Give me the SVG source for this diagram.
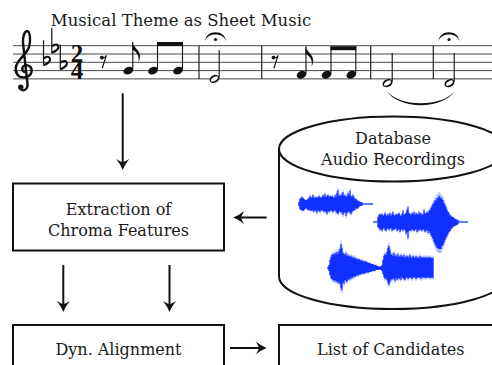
<svg xmlns="http://www.w3.org/2000/svg" width="492" height="365" viewBox="0 0 492 365">
<style>
text{font-family:"DejaVu Serif","Liberation Serif",serif;font-size:16px;fill:#1a1a1a;text-anchor:middle}
.box{fill:#fff;stroke:#111;stroke-width:2}
.staff{stroke:#333;stroke-width:0.9}
.bar{stroke:#222;stroke-width:1.2}
.stem{stroke:#111;stroke-width:1.1}
.ink{fill:#111}
.conn{stroke:#111;stroke-width:2;fill:none;marker-end:url(#ah)}
.wave{stroke:#1030ff;stroke-width:1.2;fill:none}
.fringe{opacity:0.35}
</style>
<defs>
<marker id="ah" markerUnits="userSpaceOnUse" markerWidth="16" markerHeight="16" viewBox="-13 -8 16 16" refX="-4" refY="0" orient="auto">
<path d="M0 0Q-5 -1.8 -11 -6.5Q-8 -2 -8 0Q-8 2 -11 6.5Q-5 1.8 0 0Z" fill="#111"/>
</marker>
<ellipse id="bh" rx="5" ry="3.7" transform="rotate(-22)"/>
<g id="hh"><ellipse rx="5.2" ry="3.8" transform="rotate(-25)" fill="#111"/><ellipse rx="3.9" ry="1.9" transform="rotate(-32)" fill="#fff"/></g>
<g id="fl"><path d="M0 0V-25" stroke="#111" stroke-width="1.2"/><path d="M0 -6.5C3.5 -10 7.8 -8.5 6.3 -4.6C5.2 -2.3 2.2 -0.9 0 0" stroke="#111" stroke-width="2" fill="none"/></g>
<path id="rest" d="M3.8 0.8C2 3.5 6 3.5 7.4 0.4L3.2 13.2" stroke="#111" stroke-width="1.2" fill="none"/>
<path id="ferm" d="M-10.5 42C-10.5 29 10.5 29 10.5 42C9.5 32 -9.5 32 -10.5 42Z" fill="#111"/>
</defs>

<g id="sheet-music">
<text x="181" y="26" style="font-size:16.5px">Musical Theme as Sheet Music</text>
<g>
<path class="staff" d="M13 45.7H492M13 54H492M13 62.3H492M13 70.6H492M13 78.9H492"/>
<path class="bar" d="M199 45.7V78.9M261.7 45.7V78.9M370.7 45.7V78.9M433.3 45.7V78.9"/>
</g>
<!-- treble clef -->
<path d="M26 72C22 73 21 67 24.5 65.5C29 64 32.5 68 31.5 72C30.5 77 24 78.5 19.5 76.5C15 74 14.5 67 18 62C21 57.5 27 53 29 47C31 40 30 32 27.5 31C24.5 31 22.5 37 23 43L27.5 84C28 89 24 91.5 21 89.5" stroke="#111" stroke-width="2.4" fill="none" stroke-linecap="round"/>
<path d="M16.3 70C16.5 74 18 76 20 77" stroke="#111" stroke-width="1.5" fill="none"/>
<circle cx="20.8" cy="87.3" r="2.7" fill="#111"/>
<!-- key signature -->
<use href="#fl" x="43.5" y="65.3"/>
<use href="#fl" x="51.8" y="52.9"/>
<use href="#fl" x="60.3" y="69.4"/>
<!-- time signature -->
<text x="77" y="62.3" style="font-family:'Liberation Serif',serif;font-weight:bold;font-size:25px;fill:#111">2<tspan x="77" y="78.9">4</tspan></text>
<!-- measure 1 -->
<circle cx="101.8" cy="57.6" r="1.9" fill="#111"/>
<use href="#rest" x="99" y="55"/>
<use href="#bh" x="128.3" y="70.6" class="ink"/>
<use href="#bh" x="153" y="70.6" class="ink"/>
<use href="#bh" x="178" y="70.6" class="ink"/>
<path class="stem" d="M132.8 69.5V42M157.5 69.5V42M182.5 69.5V42"/>
<path class="ink" d="M132.3 42C133 47 140 50 140 56C140 58.5 139.3 60.5 138.3 62.5C139.3 59 139 53 132.3 49.5Z"/>
<path class="ink" d="M157 42H183V46H157Z"/>
<!-- measure 2 -->
<use href="#hh" x="214.5" y="78.9"/>
<path class="stem" d="M219.2 77.5V50"/>
<use href="#ferm" x="215.5" y="0"/>
<circle cx="215.5" cy="39.5" r="1.6" fill="#111"/>
<!-- measure 3 -->
<circle cx="273.5" cy="57.6" r="1.9" fill="#111"/>
<use href="#rest" x="270.7" y="55"/>
<use href="#bh" x="301.5" y="74.75" class="ink"/>
<use href="#bh" x="326.5" y="74.75" class="ink"/>
<use href="#bh" x="351.3" y="74.75" class="ink"/>
<path class="stem" d="M306 73.6V46.2M331 73.6V46.2M355.8 73.6V46.2"/>
<path class="ink" d="M305.5 46.2C306.2 51.2 313.2 54.2 313.2 60.2C313.2 62.7 312.5 64.7 311.5 66.7C312.5 63.2 312.2 57.2 305.5 53.7Z"/>
<path class="ink" d="M330.5 46.2H356.3V50.2H330.5Z"/>
<!-- measure 4 & 5 -->
<use href="#hh" x="387.5" y="83.1"/>
<path class="stem" d="M392.2 81.7V53"/>
<use href="#hh" x="449.5" y="83.1"/>
<path class="stem" d="M454.2 81.7V53"/>
<use href="#ferm" x="449" y="0"/>
<circle cx="449" cy="39.5" r="1.6" fill="#111"/>
<path class="ink" d="M386 90C398 110 442 110 455 91C442 107.5 398 107.5 386 90Z"/>
</g>

<g id="extraction">
<rect class="box" x="13" y="183.5" width="211" height="67"/>
<text x="118.5" y="214.5">Extraction of</text>
<text x="118.5" y="236">Chroma Features</text>
</g>

<g id="database">
<path class="box" d="M279 149V276.5A114 32.5 0 0 0 507 276.5V149"/>
<ellipse class="box" cx="393" cy="149" rx="114" ry="32.5"/>
<text x="393" y="143.5">Database</text>
<text x="393" y="165">Audio Recordings</text>
<g id="waves">
<path id="wa" class="wave" d="M299 202v4M300 199v10M301 198v12M302 197v13M303 198v13M304 199v11M305 200v9M306 200v8M307 200v9M308 199v11M309 198v12M310 196v14M311 198v13M312 197v13M313 195v16M314 198v14M315 197v13M316 198v13M317 197v16M318 198v12M319 196v15M320 197v15M321 198v12M322 197v14M323 195v15M324 197v15M325 194v17M326 197v15M327 196v18M328 195v16M329 197v15M330 196v15M331 197v13M332 196v15M333 197v15M334 198v13M335 195v15M336 197v15M337 193v20M338 190v24M339 196v16M340 195v16M341 196v17M342 194v18M343 192v23M344 196v17M345 195v17M346 197v19M347 196v17M348 193v19M349 195v16M350 191v22M351 196v18M352 197v15M353 195v16M354 197v13M355 199v11M356 199v9M357 200v9M358 201v7M359 201v6M360 202v4M361 202v4M362 202.5v3M362 204H373"/>
<path id="wb" class="wave" d="M373 222H378M378 217v10M379 215v13M380 214v16M381 215v14M382 214v17M383 216v13M384 215v13M385 213v17M386 215v16M387 216v13M388 214v14M389 215v15M390 213v16M391 216v12M392 214v17M393 212v17M394 215v15M395 216v13M396 214v14M397 215v16M398 214v16M399 213v16M400 215v17M401 216v14M402 214v15M403 211v20M404 215v14M405 214v16M406 213v21M407 210v22M408 207v31M409 213v18M410 214v16M411 215v16M412 213v16M413 214v16M414 212v19M415 215v15M416 213v16M417 214v18M418 215v15M419 212v19M420 214v15M421 213v17M422 215v16M423 214v15M424 210v20M425 213v19M426 214v17M427 212v18M428 213v20M429 211v20M430 210v23M431 208v27M432 206v31M433 204v35M434 203v39M435 200v44M436 201v45M437 198v50M438 198v50M439 196v53M440 197v52M441 198v51M442 199v47M443 200v45M444 203v40M445 205v35M446 207v31M447 210v26M448 212v22M449 213v19M450 215v16M451 216v13M452 217v11M453 217v10M454 218v8M455 219v7M456 219v6M457 220v5M458 220v4M458 222H468"/>
<path id="wc" class="wave" d="M328 267v2M329 265v6M330 260v15M331 257v21M332 255v24M333 254v26M334 255v26M335 253v27M336 254v28M337 252v29M338 254v29M339 251v31M340 249v35M341 244v44M342 248v42M343 253v29M344 254v30M345 255v25M346 253v28M347 256v26M348 255v24M349 256v24M350 257v21M351 256v23M352 257v20M353 258v20M354 257v19M355 259v18M356 258v18M357 259v16M358 260v16M359 259v15M360 260v15M361 261v13M362 260v14M363 261v12M364 262v12M365 261v12M366 262v11M367 262v10M368 263v10M369 263v9M370 263v9M371 264v8M372 264v7M373 264v7M374 265v6M375 265v6M376 265v5M377 266v4M378 266v4M379 266.5v3M380 266.5v3M381 266.5v3.5M382 265v6M383 260v14M384 256v21M385 254v25M386 255v23M387 252v28M388 248v35M389 246v39M390 250v32M391 255v24M392 254v26M393 256v22M394 253v26M395 256v25M396 255v23M397 257v23M398 254v24M399 256v23M400 257v21M401 255v25M402 256v21M403 257v21M404 255v24M405 258v22M406 256v22M407 257v20M408 256v23M409 258v20M410 255v22M411 257v21M412 258v21M413 256v21M414 257v21M415 258v19M416 256v23M417 258v20M418 257v20M419 258v20M420 256v21M421 258v21M422 257v20M423 258v20M424 257v20M425 258v20M426 257v21M427 258v19M428 257v21M429 258v19M430 257v21M431 258v20M432 258v19M433 258v20"/>
<use href="#wa" class="fringe" transform="translate(0 204) scale(1 1.18) translate(0 -204)"/>
<use href="#wb" class="fringe" transform="translate(0 222) scale(1 1.15) translate(0 -222)"/>
<use href="#wc" class="fringe" transform="translate(0 268) scale(1 1.15) translate(0 -268)"/>
</g>
</g>

<g id="alignment">
<rect class="box" x="13" y="325" width="211" height="60"/>
<text x="118.5" y="355">Dyn. Alignment</text>
</g>

<g id="candidates">
<rect class="box" x="279" y="325" width="240" height="60"/>
<text x="390.8" y="355">List of Candidates</text>
</g>

<g id="connectors">
<path class="conn" d="M122.7 93.3V166"/>
<path class="conn" d="M63.3 265V308"/>
<path class="conn" d="M169.5 265V308"/>
<path class="conn" d="M266.7 217.5H237.3"/>
<path class="conn" d="M230 348H262.7"/>
</g>
</svg>
